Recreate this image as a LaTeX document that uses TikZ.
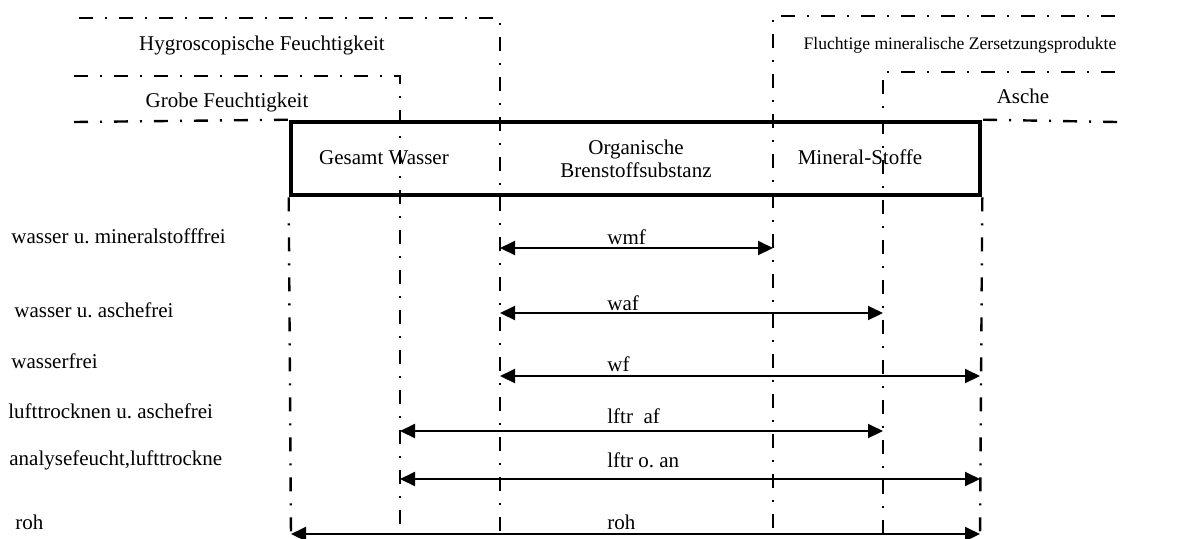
\documentclass[tikz,border=0pt]{standalone}
\usepackage{fontspec}
\setmainfont{Liberation Serif}
\frenchspacing
\usetikzlibrary{arrows.meta,positioning}

\begin{document}
\begin{tikzpicture}[x=0.5pt,y=-0.5pt,
    lbl/.style={font=\fontsize{10.5}{11.5}\selectfont,inner sep=0pt},
    grenze/.style={line width=1.2pt,dash pattern=on 7pt off 6pt on 1pt off 6pt},
    rahmen/.style={draw,line width=2.3pt,inner sep=0pt,
                   minimum width=344.5pt,minimum height=36.5pt},
    flow/.style={{Triangle[length=7.5pt,width=7pt]}-{Triangle[length=7.5pt,width=7pt]},line width=1pt}]
  \useasboundingbox (0,0) rectangle (1199,538);
  % Stoffbestandteile
  \node[rahmen] (kohle) at (635.5,158.5) {};
  \node[lbl] (wasser) at (384,158) {Gesamt Wasser};
  \node[lbl,align=center] (organ) at (636,159) {Organische\\Brenstoffsubstanz};
  \node[lbl] (mineral) at (860,157) {Mineral-Stoffe};
  % Grenzen
  \draw[grenze] (79,18) -| (500,532);
  \draw[grenze] (74,76) -| (400,536);
  \draw[grenze] (74,122) -- (kohle.north west);
  \draw[grenze] (kohle.south west) -- (291,536);
  \draw[grenze] (1115,16) -| (773,532);
  \draw[grenze] (1115,72) -| (883,536);
  \draw[grenze] (1117,122) -- (kohle.north east);
  \draw[grenze] (kohle.south east) -- (980,536);
  \node[lbl] (hygro) at (262,45) {Hygroscopische Feuchtigkeit};
  \node[lbl] (grob) at (227,102) {Grobe Feuchtigkeit};
  \node[lbl,font=\fontsize{8.8}{10}\selectfont] (fluecht) at (960,45) {Fluchtige mineralische Zersetzungsprodukte};
  \node[lbl] (asche) at (1023,96) {Asche};
  % Bezugszustaende
  \foreach \n/\xa/\xb/\y/\ty/\t/\lx/\ly/\s in {
      wmf/500/773/248/237/wmf/11/236/{wasser u. mineralstofffrei},
      waf/500/883/313/303/waf/14/310/{wasser u. aschefrei},
      wf/500/980/376/364/wf/11/361/wasserfrei,
      lfaf/400/883/431/416/{lftr~~af}/8/411/{lufttrocknen u. aschefrei},
      lfan/400/980/479/460/{lftr o. an}/9/460/{analysefeucht,lufttrockne},
      roh/291/980/534/522/roh/15/522/roh}
  {
    \coordinate (\n-a) at (\xa,\y);
    \coordinate (\n-b) at (\xb,\y);
    \draw[flow] (\n-a) -- (\n-b);
    \node[lbl,anchor=west] (\n-t) at (607,\ty) {\t};
    \node[lbl,anchor=west] (\n-s) at (\lx,\ly) {\s};
  }
\end{tikzpicture}
\end{document}
